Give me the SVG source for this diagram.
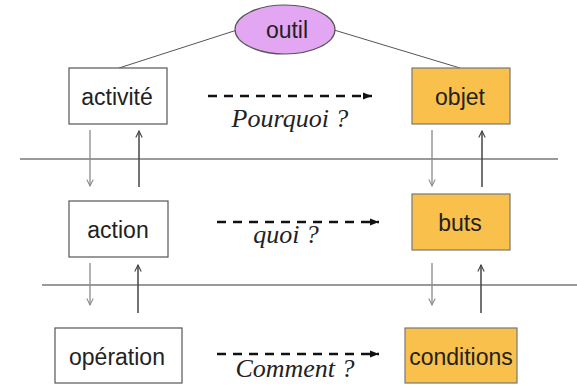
<svg xmlns="http://www.w3.org/2000/svg" width="577" height="385" viewBox="0 0 577 385">
<style>
.box{fill:#fff;stroke:#555;stroke-width:1.2}
.gold{fill:#F9C04B;stroke:#777;stroke-width:1.2}
.lbl{font-family:"Liberation Sans",Arial,sans-serif;font-size:23px;fill:#222;text-anchor:middle}
.q{font-family:"Liberation Serif","Times New Roman",serif;font-style:italic;font-size:26px;fill:#222;text-anchor:middle}
.sep{stroke:#9a9a9a;stroke-width:2;fill:none}
.dash{stroke:#111;stroke-width:2.6;stroke-dasharray:9 7;fill:none}
.down{stroke:#8a8a8a;stroke-width:1.3;fill:none}
.up{stroke:#444;stroke-width:1.5;fill:none}
.tie{stroke:#555;stroke-width:1;fill:none}
</style>
<defs>
<marker id="vd" viewBox="0 0 10 10" refX="9" refY="5" markerWidth="8" markerHeight="8" orient="auto" markerUnits="userSpaceOnUse">
<path d="M1,1 L9,5 L1,9" fill="none" stroke="#8a8a8a" stroke-width="1.3"/>
</marker>
<marker id="vu" viewBox="0 0 10 10" refX="9" refY="5" markerWidth="8" markerHeight="8" orient="auto" markerUnits="userSpaceOnUse">
<path d="M1,1 L9,5 L1,9" fill="none" stroke="#444" stroke-width="1.4"/>
</marker>
<marker id="ah" viewBox="0 0 10 10" refX="10" refY="5" markerWidth="10" markerHeight="9" orient="auto" markerUnits="userSpaceOnUse">
<path d="M0,1 L10,5 L0,9 Z" fill="#111"/>
</marker>
</defs>

<g id="separators">
<line class="sep" x1="20" y1="159" x2="558" y2="159"/>
<line class="sep" x1="42" y1="285" x2="577" y2="285"/>
</g>

<g id="connectors">
<line class="tie" x1="237" y1="30" x2="119" y2="68"/>
<line class="tie" x1="334" y1="30" x2="460" y2="68"/>
<line class="dash" x1="208" y1="96" x2="372" y2="96" marker-end="url(#ah)"/>
<line class="dash" x1="217" y1="222" x2="379" y2="222" marker-end="url(#ah)"/>
<line class="dash" x1="217" y1="354" x2="379" y2="354" marker-end="url(#ah)"/>
<line class="down" x1="90" y1="130" x2="90" y2="186" marker-end="url(#vd)"/>
<line class="up" x1="139" y1="187" x2="139" y2="131" marker-end="url(#vu)"/>
<line class="down" x1="432" y1="130" x2="432" y2="186" marker-end="url(#vd)"/>
<line class="up" x1="482" y1="187" x2="482" y2="131" marker-end="url(#vu)"/>
<line class="down" x1="90" y1="263" x2="90" y2="305" marker-end="url(#vd)"/>
<line class="up" x1="138" y1="313" x2="138" y2="265" marker-end="url(#vu)"/>
<line class="down" x1="432" y1="263" x2="432" y2="305" marker-end="url(#vd)"/>
<line class="up" x1="481" y1="313" x2="481" y2="265" marker-end="url(#vu)"/>
</g>

<g id="outil">
<ellipse cx="285" cy="29.5" rx="50" ry="24.5" fill="#E3A6F2" stroke="#555" stroke-width="1.2"/>
<text class="lbl" x="287" y="38" font-size="24">outil</text>
</g>
<g id="activite">
<rect class="box" x="69" y="68" width="98" height="56"/>
<text class="lbl" x="117" y="105">activité</text>
</g>
<g id="objet">
<rect class="gold" x="412" y="68" width="98" height="56"/>
<text class="lbl" x="460" y="105">objet</text>
</g>
<g id="action">
<rect class="box" x="69" y="201" width="99" height="56"/>
<text class="lbl" x="118" y="238">action</text>
</g>
<g id="buts">
<rect class="gold" x="412" y="194" width="98" height="56"/>
<text class="lbl" x="460" y="231">buts</text>
</g>
<g id="operation">
<rect class="box" x="55" y="328" width="127" height="55"/>
<text class="lbl" x="117" y="365">opération</text>
</g>
<g id="conditions">
<rect class="gold" x="405" y="328" width="112" height="55"/>
<text class="lbl" x="461" y="365">conditions</text>
</g>

<g id="labels">
<text class="q" x="290" y="127" font-size="25">Pourquoi ?</text>
<text class="q" x="286" y="243">quoi ?</text>
<text class="q" x="295" y="377">Comment ?</text>
</g>
</svg>
